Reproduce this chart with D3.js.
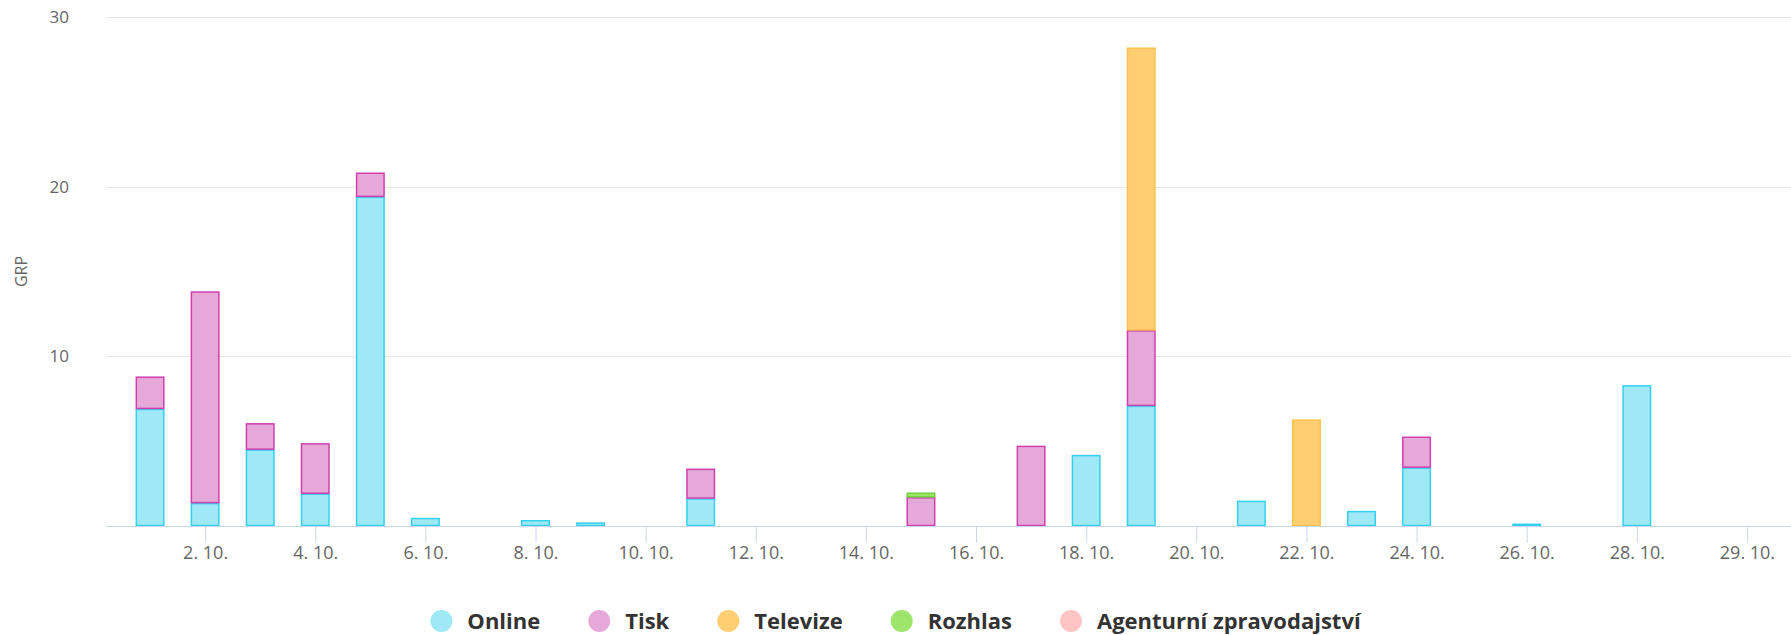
<!DOCTYPE html>
<html>
<head>
<meta charset="utf-8">
<script src="https://cdn.jsdelivr.net/npm/d3@7"></script>
<style>
  html, body { margin: 0; padding: 0; background: #fff; }
  svg { display: block; font-family: "Open Sans", "Noto Sans", sans-serif; }
</style>
</head>
<body>
<svg id="chart" width="1791" height="635"></svg>
<script>
// ---- data ----
const days = d3.range(1, 31); // 1. 10. .. 30. 10.
const online   = [6.9, 1.35, 4.5, 1.9, 19.4, 0.47, 0, 0.34, 0.2, 0, 1.62, 0, 0, 0, 0, 0, 0, 4.18, 7.08, 0, 1.48, 0, 0.88, 3.44, 0, 0.13, 0, 8.29, 0, 0];
const tisk     = [1.9, 12.47, 1.55, 2.97, 1.42, 0, 0, 0, 0, 0, 1.75, 0, 0, 0, 1.69, 0, 4.72, 0, 4.45, 0, 0, 0, 0, 1.82, 0, 0, 0, 0, 0, 0];
const televize = [0, 0, 0, 0, 0, 0, 0, 0, 0, 0, 0, 0, 0, 0, 0, 0, 0, 0, 16.66, 0, 0, 6.27, 0, 0, 0, 0, 0, 0, 0, 0];
const rozhlas  = [0, 0, 0, 0, 0, 0, 0, 0, 0, 0, 0, 0, 0, 0, 0.27, 0, 0, 0, 0, 0, 0, 0, 0, 0, 0, 0, 0, 0, 0, 0];
const agentura = new Array(30).fill(0);
const seriesNames = ["Online", "Tisk", "Televize", "Rozhlas", "Agenturní zpravodajství"];
const tickDays   = [2, 4, 6, 8, 10, 12, 14, 16, 18, 20, 22, 24, 26, 28, 30];
const tickLabels = ["2. 10.", "4. 10.", "6. 10.", "8. 10.", "10. 10.", "12. 10.", "14. 10.", "16. 10.", "18. 10.", "20. 10.", "22. 10.", "24. 10.", "26. 10.", "28. 10.", "29. 10."];
const yTicks = [10, 20, 30];

// ---- styles ----
const fills   = ["#9fe8f6", "#e6a8d9", "#ffcd72", "#9de56b", "#ffc4c4"];
const strokes = ["#35d0ee", "#cf40ad", "#fdc24e", "#6ed43a", "#ff9f9f"];

const svg = d3.select("#chart");
const W = 1791, H = 635;
const mLeft = 106, mRight = 1791, mTop = 17, mBottom = 526;

const x = d3.scaleLinear().domain([0.2, 30.8]).range([mLeft, mRight]);
const y = d3.scaleLinear().domain([0, 30]).range([mBottom, mTop]);
const barW = 28.5;

// grid
const grid = svg.append("g");
grid.selectAll("line").data(yTicks).join("line")
  .attr("x1", mLeft).attr("x2", mRight)
  .attr("y1", d => Math.round(y(d)) + 0.5).attr("y2", d => Math.round(y(d)) + 0.5)
  .attr("stroke", "#e6e6e6").attr("stroke-width", 1);

// y axis labels
const yAxis = d3.axisLeft(y).tickValues(yTicks).tickSize(0).tickPadding(0);
const gy = svg.append("g").attr("transform", `translate(${mLeft - 37},0)`).call(yAxis);
gy.select(".domain").remove();
gy.selectAll("text").attr("fill", "#666").style("font-size", "17px").attr("font-family", "Open Sans, sans-serif");

// y title
svg.append("text")
  .attr("transform", `translate(27,${(mTop + mBottom) / 2}) rotate(-90)`)
  .attr("text-anchor", "middle")
  .attr("fill", "#666").style("font-size", "16px")
  .text("GRP");

// stacked bars
const table = days.map((d, i) => ({
  day: d, s0: online[i], s1: tisk[i], s2: televize[i], s3: rozhlas[i], s4: agentura[i]
}));
const stack = d3.stack().keys(["s0", "s1", "s2", "s3", "s4"]);
const layers = stack(table);

const barsG = svg.append("g");
layers.forEach((layer, si) => {
  barsG.append("g").selectAll("rect")
    .data(layer.filter(p => p[1] - p[0] > 0))
    .join("rect")
    .attr("x", p => x(p.data.day) - barW / 2 + 0.5)
    .attr("y", p => y(p[1]) + 0.5)
    .attr("width", barW - 1)
    .attr("height", p => Math.max(0, y(p[0]) - y(p[1]) - 1))
    .attr("fill", fills[si])
    .attr("stroke", strokes[si])
    .attr("stroke-width", 1.5);
});

// x axis
const xAxis = d3.axisBottom(x).tickValues(tickDays)
  .tickFormat((d, i) => tickLabels[i]).tickSize(16).tickPadding(4);
const gx = svg.append("g").attr("transform", `translate(0,${mBottom + 0.5})`).call(xAxis);
gx.select(".domain").attr("stroke", "#ccd6eb").attr("d", `M${mLeft},0H${mRight}`);
gx.selectAll(".tick line").attr("stroke", "#ccd6eb");
gx.selectAll("text").attr("fill", "#666").style("font-size", "18px").attr("font-family", "Open Sans, sans-serif");

// legend
const legend = svg.append("g").attr("transform", `translate(0,${621})`);
const items = [];
seriesNames.forEach((name, i) => {
  const g = legend.append("g");
  g.append("circle").attr("cx", 11).attr("cy", 0).attr("r", 11).attr("fill", fills[i]);
  const t = g.append("text").attr("x", 37).attr("y", 0).attr("dy", "0.35em")
    .attr("fill", "#333").style("font-size", "22px").style("font-weight", "bold")
    .text(name);
  const w = 37 + t.node().getComputedTextLength();
  items.push({ g, w });
});
const gap = 48;
const total = d3.sum(items, d => d.w) + gap * (items.length - 1);
let pos = (W - total) / 2;
items.forEach(it => { it.g.attr("transform", `translate(${pos},0)`); pos += it.w + gap; });
</script>
</body>
</html>
